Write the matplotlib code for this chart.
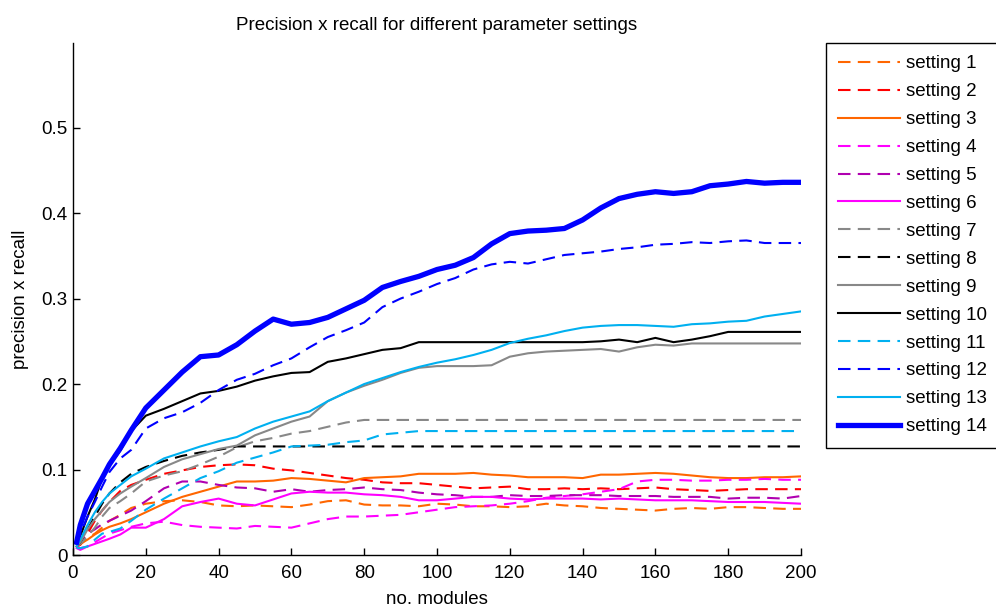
import numpy as np
import matplotlib
matplotlib.use("Agg")
import matplotlib.pyplot as plt
from matplotlib import ticker

plt.rcParams['font.family'] = ['Liberation Sans', 'DejaVu Sans']

# x positions (no. modules) where the curves were read off
modules = [1, 2, 4, 6, 8, 10, 13, 16, 20, 25, 30, 35, 40, 45, 50, 55, 60, 65, 70, 75,
           80, 85, 90, 95, 100, 105, 110, 115, 120, 125, 130, 135, 140, 145, 150,
           155, 160, 165, 170, 175, 180, 185, 190, 195, 200]

s1 = [0.010, 0.012, 0.020, 0.025, 0.032, 0.040, 0.047, 0.055, 0.060, 0.063, 0.064, 0.062, 0.058,
      0.057, 0.058, 0.057, 0.056, 0.059, 0.063, 0.064, 0.059, 0.058, 0.058, 0.057, 0.060, 0.059,
      0.057, 0.057, 0.056, 0.057, 0.060, 0.058, 0.057, 0.055, 0.054, 0.053, 0.052, 0.054, 0.055,
      0.054, 0.056, 0.056, 0.055, 0.054, 0.054]
s2 = [0.010, 0.012, 0.025, 0.040, 0.052, 0.062, 0.075, 0.082, 0.088, 0.095, 0.099, 0.103, 0.105,
      0.106, 0.105, 0.101, 0.099, 0.096, 0.093, 0.090, 0.088, 0.085, 0.084, 0.084, 0.082, 0.080,
      0.078, 0.079, 0.080, 0.077, 0.077, 0.078, 0.077, 0.078, 0.077, 0.078, 0.079, 0.077, 0.076,
      0.075, 0.076, 0.077, 0.077, 0.077, 0.077]
s3 = [0.010, 0.013, 0.018, 0.024, 0.029, 0.033, 0.037, 0.042, 0.050, 0.060, 0.068, 0.074, 0.080,
      0.086, 0.086, 0.087, 0.090, 0.089, 0.087, 0.085, 0.090, 0.091, 0.092, 0.095, 0.095, 0.095,
      0.096, 0.094, 0.093, 0.091, 0.091, 0.091, 0.090, 0.094, 0.094, 0.095, 0.096, 0.095, 0.093,
      0.091, 0.090, 0.090, 0.091, 0.091, 0.092]
s4 = [0.010, 0.008, 0.010, 0.015, 0.020, 0.025, 0.029, 0.033, 0.037, 0.039, 0.035, 0.033, 0.032,
      0.031, 0.034, 0.033, 0.032, 0.037, 0.042, 0.045, 0.045, 0.046, 0.047, 0.050, 0.053, 0.056,
      0.057, 0.058, 0.060, 0.063, 0.067, 0.069, 0.071, 0.074, 0.077, 0.086, 0.088, 0.088, 0.087,
      0.087, 0.088, 0.088, 0.089, 0.088, 0.088]
s5 = [0.010, 0.015, 0.025, 0.030, 0.036, 0.040, 0.046, 0.052, 0.063, 0.078, 0.086, 0.086, 0.082,
      0.079, 0.078, 0.074, 0.077, 0.074, 0.076, 0.077, 0.079, 0.077, 0.076, 0.073, 0.071, 0.070,
      0.068, 0.068, 0.070, 0.069, 0.069, 0.070, 0.070, 0.070, 0.069, 0.069, 0.069, 0.068, 0.068,
      0.068, 0.066, 0.067, 0.067, 0.066, 0.069]
s6 = [0.008, 0.006, 0.010, 0.013, 0.016, 0.019, 0.024, 0.032, 0.032, 0.042, 0.057, 0.062, 0.066,
      0.060, 0.058, 0.065, 0.072, 0.074, 0.073, 0.073, 0.071, 0.070, 0.068, 0.064, 0.064, 0.066,
      0.068, 0.068, 0.066, 0.065, 0.066, 0.066, 0.066, 0.065, 0.066, 0.065, 0.064, 0.064, 0.064,
      0.063, 0.062, 0.062, 0.062, 0.061, 0.060]
s7 = [0.010, 0.013, 0.022, 0.032, 0.045, 0.055, 0.063, 0.072, 0.086, 0.093, 0.098, 0.106, 0.115,
      0.126, 0.133, 0.137, 0.142, 0.145, 0.150, 0.155, 0.158, 0.158, 0.158, 0.158, 0.158, 0.158,
      0.158, 0.158, 0.158, 0.158, 0.158, 0.158, 0.158, 0.158, 0.158, 0.158, 0.158, 0.158, 0.158,
      0.158, 0.158, 0.158, 0.158, 0.158, 0.158]
s8 = [0.010, 0.015, 0.030, 0.045, 0.060, 0.072, 0.085, 0.095, 0.103, 0.110, 0.116, 0.120, 0.123,
      0.127, 0.127, 0.127, 0.127, 0.127, 0.127, 0.127, 0.127, 0.127, 0.127, 0.127, 0.127, 0.127,
      0.127, 0.127, 0.127, 0.127, 0.127, 0.127, 0.127, 0.127, 0.127, 0.127, 0.127, 0.127, 0.127,
      0.127, 0.127, 0.127, 0.127, 0.127, 0.127]
s9 = [0.010, 0.015, 0.030, 0.042, 0.052, 0.062, 0.072, 0.080, 0.090, 0.103, 0.112, 0.118, 0.124,
      0.128, 0.140, 0.148, 0.156, 0.162, 0.180, 0.190, 0.198, 0.205, 0.213, 0.219, 0.221, 0.221,
      0.221, 0.222, 0.232, 0.236, 0.238, 0.239, 0.240, 0.241, 0.238, 0.243, 0.246, 0.245, 0.2475,
      0.2475, 0.2475, 0.2475, 0.2475, 0.2475, 0.2475]
s10 = [0.013, 0.022, 0.045, 0.065, 0.090, 0.105, 0.122, 0.145, 0.163, 0.171, 0.180, 0.189, 0.192,
       0.197, 0.204, 0.209, 0.213, 0.214, 0.226, 0.230, 0.235, 0.240, 0.242, 0.249, 0.249, 0.249,
       0.249, 0.249, 0.249, 0.249, 0.249, 0.249, 0.249, 0.250, 0.252, 0.249, 0.254, 0.249, 0.252,
       0.256, 0.261, 0.261, 0.261, 0.261, 0.261]
s11 = [0.008, 0.008, 0.010, 0.018, 0.025, 0.027, 0.031, 0.040, 0.053, 0.066, 0.078, 0.090, 0.098,
       0.108, 0.114, 0.120, 0.127, 0.128, 0.129, 0.132, 0.134, 0.141, 0.143, 0.145, 0.145, 0.145,
       0.145, 0.145, 0.145, 0.145, 0.145, 0.145, 0.145, 0.145, 0.145, 0.145, 0.145, 0.145, 0.145,
       0.145, 0.145, 0.145, 0.145, 0.145, 0.145]
s12 = [0.012, 0.025, 0.045, 0.062, 0.080, 0.097, 0.113, 0.123, 0.148, 0.160, 0.167, 0.178, 0.193,
       0.205, 0.212, 0.222, 0.230, 0.243, 0.255, 0.263, 0.272, 0.290, 0.300, 0.308, 0.317, 0.324,
       0.334, 0.340, 0.343, 0.341, 0.346, 0.351, 0.353, 0.355, 0.358, 0.360, 0.363, 0.364, 0.366,
       0.365, 0.367, 0.368, 0.365, 0.365, 0.365]
s13 = [0.010, 0.018, 0.035, 0.050, 0.062, 0.072, 0.082, 0.092, 0.101, 0.113, 0.120, 0.127, 0.133,
       0.138, 0.148, 0.156, 0.162, 0.168, 0.180, 0.190, 0.200, 0.207, 0.214, 0.220, 0.225, 0.229,
       0.234, 0.240, 0.248, 0.253, 0.257, 0.262, 0.266, 0.268, 0.269, 0.269, 0.268, 0.267, 0.270,
       0.271, 0.273, 0.274, 0.279, 0.282, 0.285]
s14 = [0.015, 0.035, 0.060, 0.075, 0.090, 0.106, 0.125, 0.146, 0.172, 0.193, 0.214, 0.232, 0.234,
       0.246, 0.262, 0.276, 0.270, 0.272, 0.278, 0.288, 0.298, 0.313, 0.320, 0.326, 0.334, 0.339,
       0.348, 0.364, 0.376, 0.379, 0.380, 0.382, 0.392, 0.406, 0.417, 0.422, 0.425, 0.423, 0.425,
       0.432, 0.434, 0.437, 0.435, 0.436, 0.436]

series = [s1, s2, s3, s4, s5, s6, s7, s8, s9, s10, s11, s12, s13, s14]
labels = ["setting %d" % (i + 1) for i in range(14)]

orange = '#ff6600'
red = '#ff0000'
magenta = '#ff00ff'
purple = '#b000b0'
gray = '#888888'
black = '#000000'
cyan = '#00b0f0'
blue = '#0000ff'

# (colour, dashed?, linewidth)
styles = [(orange, True, 1.5), (red, True, 1.5), (orange, False, 1.5), (magenta, True, 1.5),
          (purple, True, 1.5), (magenta, False, 1.5), (gray, True, 1.5), (black, True, 1.5),
          (gray, False, 1.5), (black, False, 1.5), (cyan, True, 1.5), (blue, True, 1.5),
          (cyan, False, 1.5), (blue, False, 3.8)]

fs = 13.5

fig = plt.figure(figsize=(9.96, 6.07), dpi=100)
ax = fig.add_axes([73 / 996, 52 / 607, 728 / 996, 512 / 607])

for y, lab, (c, dashed, lw) in zip(series, labels, styles):
    line, = ax.plot(modules, y, color=c, lw=lw, label=lab)
    if dashed:
        line.set_dashes((6, 3.5))

ax.set_xlim(0, 200)
ax.set_ylim(0, 0.599)
ax.set_xticks(np.arange(0, 201, 20))
ax.set_yticks(np.arange(0, 0.51, 0.1))
ax.yaxis.set_major_formatter(ticker.FuncFormatter(lambda v, p: '%g' % round(v, 2)))
ax.tick_params(direction='in', length=5, width=1, labelsize=fs, pad=4)
ax.tick_params(axis='x', pad=7)
ax.spines['top'].set_visible(False)
ax.spines['right'].set_visible(False)
for sp in ('left', 'bottom'):
    ax.spines[sp].set_linewidth(1.0)

ax.set_title("Precision x recall for different parameter settings", fontsize=fs, pad=9)
ax.set_xlabel("no. modules", fontsize=fs, labelpad=7)
ax.set_ylabel("precision x recall", fontsize=fs, labelpad=9)

leg = ax.legend(loc='upper left', bbox_to_anchor=(826 / 996, 1 - 43 / 607),
                bbox_transform=fig.transFigure, borderaxespad=0, fontsize=fs,
                handlelength=3.3, handletextpad=0.3, labelspacing=0.575,
                borderpad=0.66, fancybox=False, framealpha=1, edgecolor='black')
leg.get_frame().set_linewidth(1.0)

fig.savefig("out.png", dpi=100)
